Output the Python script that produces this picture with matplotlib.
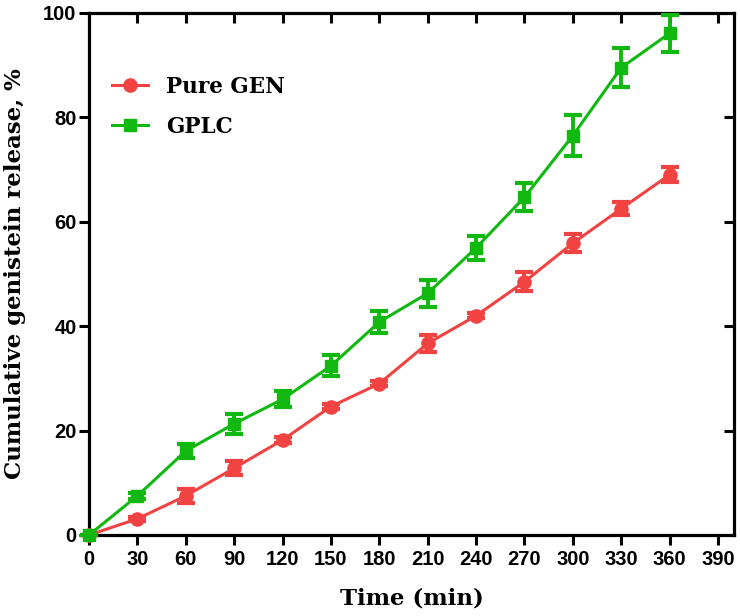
import matplotlib
matplotlib.use("Agg")
import matplotlib.pyplot as plt
from matplotlib.lines import Line2D

time_min = [0, 30, 60, 90, 120, 150, 180, 210, 240, 270, 300, 330, 360]
pure_gen = [0, 3.1, 7.5, 12.8, 18.2, 24.6, 29.0, 36.7, 42.0, 48.5, 55.9, 62.5, 69.0]
pure_gen_err = [0, 0.4, 1.4, 1.3, 0.5, 0.5, 0.5, 1.6, 0.5, 1.8, 1.7, 1.2, 1.4]
gplc = [0, 7.5, 16.1, 21.3, 26.0, 32.4, 40.8, 46.3, 55.0, 64.7, 76.5, 89.5, 96.1]
gplc_err = [0, 0.6, 1.3, 1.9, 1.5, 2.0, 2.2, 2.6, 2.3, 2.7, 3.9, 3.7, 3.5]
x_ticks = list(range(0, 391, 30))
y_ticks = [0, 20, 40, 60, 80, 100]
series_labels = ["Pure GEN", "GPLC"]

red = "#F24343"
green = "#10B810"

fig = plt.figure(figsize=(7.4, 6.16), dpi=100)
ax = fig.add_axes([0.1203, 0.1315, 0.8717, 0.8475])

ax.errorbar(time_min, pure_gen, yerr=pure_gen_err, color=red, marker="o",
            markersize=9.5, linewidth=2.2, elinewidth=2.8, capsize=6.5, capthick=3,
            clip_on=False, zorder=3)
ax.errorbar(time_min, gplc, yerr=gplc_err, color=green, marker="s",
            markersize=8.5, linewidth=2.2, elinewidth=2.8, capsize=6.5, capthick=3,
            clip_on=False, zorder=4)

ax.set_xlim(0, 400)
ax.set_ylim(0, 100)
ax.set_xticks(x_ticks)
ax.set_yticks(y_ticks)

for s in ax.spines.values():
    s.set_linewidth(2.3)

ax.tick_params(axis="both", direction="out", length=7, width=2.2)
ax.tick_params(axis="x", pad=4)
ax.tick_params(axis="y", pad=2)
for lab in ax.get_xticklabels() + ax.get_yticklabels():
    lab.set_fontfamily("Liberation Sans")
    lab.set_fontweight("bold")
    lab.set_fontsize(14.5)

secx = ax.secondary_xaxis("top")
secx.set_xticks(x_ticks[1:])
secx.tick_params(direction="in", length=7, width=2.2, labeltop=False)
secx.spines["top"].set_visible(False)
secy = ax.secondary_yaxis("right")
secy.set_yticks(y_ticks[1:-1])
secy.tick_params(direction="in", length=7, width=2.2, labelright=False)
secy.spines["right"].set_visible(False)

lab_font = dict(family="DejaVu Serif", weight="bold", size=16.5)
ax.set_xlabel("Time (min)", fontdict=lab_font, labelpad=13)
ax.set_ylabel("Cumulative genistein release, %", fontdict=lab_font, labelpad=12)

handles = [
    Line2D([], [], color=red, marker="o", markersize=9.5, linewidth=2.2),
    Line2D([], [], color=green, marker="s", markersize=8.5, linewidth=2.2),
]
ax.legend(handles, series_labels, loc="upper left", bbox_to_anchor=(0.035, 0.88),
          frameon=False,
          prop=dict(family="DejaVu Serif", weight="bold", size=15.5),
          handlelength=1.7, handletextpad=0.85, labelspacing=0.85,
          borderpad=0, borderaxespad=0)

fig.savefig("out.png", dpi=100)
